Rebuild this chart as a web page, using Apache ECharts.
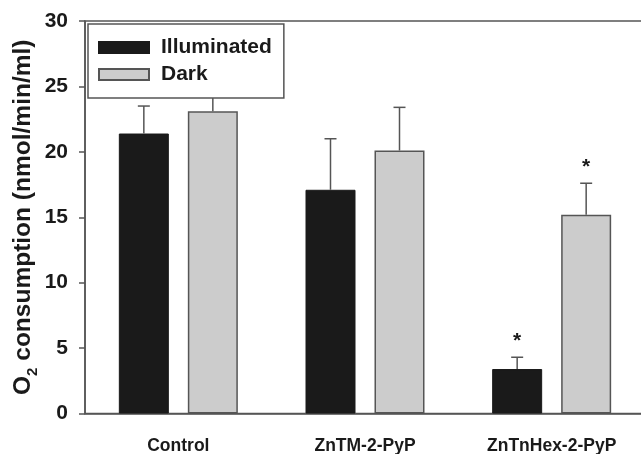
<!DOCTYPE html>
<html>
<head>
<meta charset="utf-8">
<script src="https://cdn.jsdelivr.net/npm/echarts@6/dist/echarts.min.js"></script>
<style>
html,body{margin:0;padding:0;background:#fff;}
#c{width:641px;height:454px;}
</style>
</head>
<body>
<div id="c"></div>
<script>
var categories = ['Control', 'ZnTM-2-PyP', 'ZnTnHex-2-PyP'];
var illuminatedMean = [21.4, 17.1, 3.4];
var illuminatedErr = [2.1, 3.9, 0.9];
var illuminatedSig = [false, false, true];
var darkMean = [23.1, 20.1, 15.2];
var darkErr = [1.4, 3.3, 2.4];
var darkSig = [false, false, true];
var yTicks = [0, 5, 10, 15, 20, 25, 30];

var AX = '#555555';
var BAR_W = 50, GAP = 19;
var OFF = (BAR_W + GAP) / 2;
var SANS = "'Liberation Sans', Arial, sans-serif";

function errSeries(name, means, errs, sigs, sign) {
  return {
    type: 'custom',
    name: name + ' err',
    z: 5,
    silent: true,
    data: means.map(function (m, i) { return [i, m, m + errs[i], sigs[i] ? 1 : 0]; }),
    encode: { x: 0, y: [1, 2] },
    renderItem: function (params, api) {
      var top = api.coord([api.value(0), api.value(1)]);
      var hi = api.coord([api.value(0), api.value(2)]);
      var x = top[0] + sign * OFF;
      var children = [
        { type: 'line', shape: { x1: x, y1: top[1], x2: x, y2: hi[1] }, style: { stroke: AX, lineWidth: 1.5 } },
        { type: 'line', shape: { x1: x - 6, y1: hi[1], x2: x + 6, y2: hi[1] }, style: { stroke: AX, lineWidth: 1.5 } }
      ];
      if (api.value(3)) {
        children.push({ type: 'text', style: { text: '*', x: x, y: hi[1] - 16, align: 'center', verticalAlign: 'middle', font: 'bold 21px ' + SANS, fill: '#1a1a1a' } });
      }
      return { type: 'group', children: children };
    }
  };
}

var chart = echarts.init(document.getElementById('c'));
chart.setOption({
  animation: false,
  backgroundColor: '#fff',
  grid: { left: 85, right: -4, top: 21, bottom: 40.5, containLabel: false, outerBoundsMode: 'none', show: true, borderColor: AX, borderWidth: 1.5, backgroundColor: 'transparent' },
  legend: {
    left: 88, top: 24, z: 20,
    orient: 'vertical',
    backgroundColor: '#fff',
    borderColor: AX, borderWidth: 1.5, borderRadius: 0,
    padding: [13, 12, 13, 10],
    itemWidth: 50, itemHeight: 11, itemGap: 6,
    icon: 'rect',
    data: ['Illuminated', 'Dark'],
    textStyle: { fontFamily: SANS, fontWeight: 'bold', fontSize: 21, lineHeight: 21, color: '#1a1a1a', padding: [0, 0, 0, 7] }
  },
  xAxis: {
    type: 'category',
    data: categories,
    axisLine: { lineStyle: { color: AX, width: 1.5 } },
    axisTick: { alignWithLabel: true, length: 6, lineStyle: { color: AX, width: 1.5 } },
    axisLabel: { interval: 0, hideOverlap: false, margin: 24, fontFamily: SANS, fontWeight: 'bold', fontSize: 17.5, color: '#1a1a1a' },
    splitLine: { show: false }
  },
  yAxis: {
    type: 'value',
    min: yTicks[0], max: yTicks[yTicks.length - 1], interval: 5,
    axisLine: { show: true, lineStyle: { color: AX, width: 1.5 } },
    axisTick: { show: true, length: 6, lineStyle: { color: AX, width: 1.5 } },
    axisLabel: { margin: 17, fontFamily: SANS, fontWeight: 'bold', fontSize: 21, color: '#1a1a1a' },
    splitLine: { show: false },
    name: '{a|O}{b|2}{a| consumption (nmol/min/ml)}',
    nameLocation: 'middle',
    nameGap: 49,
    nameMoveOverlap: false,
    nameRotate: 90,
    nameTextStyle: {
      rich: {
        a: { fontFamily: SANS, fontWeight: 'bold', fontSize: 24.5, color: '#1a1a1a', lineHeight: 26 },
        b: { fontFamily: SANS, fontWeight: 'bold', fontSize: 15, color: '#1a1a1a', lineHeight: 26, verticalAlign: 'bottom', padding: [0, 0, -4, 0] }
      }
    }
  },
  series: [
    {
      name: 'Illuminated', type: 'bar', data: illuminatedMean,
      barWidth: BAR_W, barGap: (GAP / BAR_W * 100) + '%',
      itemStyle: { color: '#1a1a1a', borderColor: '#1a1a1a', borderWidth: 1 }
    },
    {
      name: 'Dark', type: 'bar', data: darkMean,
      barWidth: BAR_W,
      itemStyle: { color: '#cccccc', borderColor: AX, borderWidth: 1.5 }
    },
    errSeries('Illuminated', illuminatedMean, illuminatedErr, illuminatedSig, -1),
    errSeries('Dark', darkMean, darkErr, darkSig, 1)
  ]
});
</script>
</body>
</html>
